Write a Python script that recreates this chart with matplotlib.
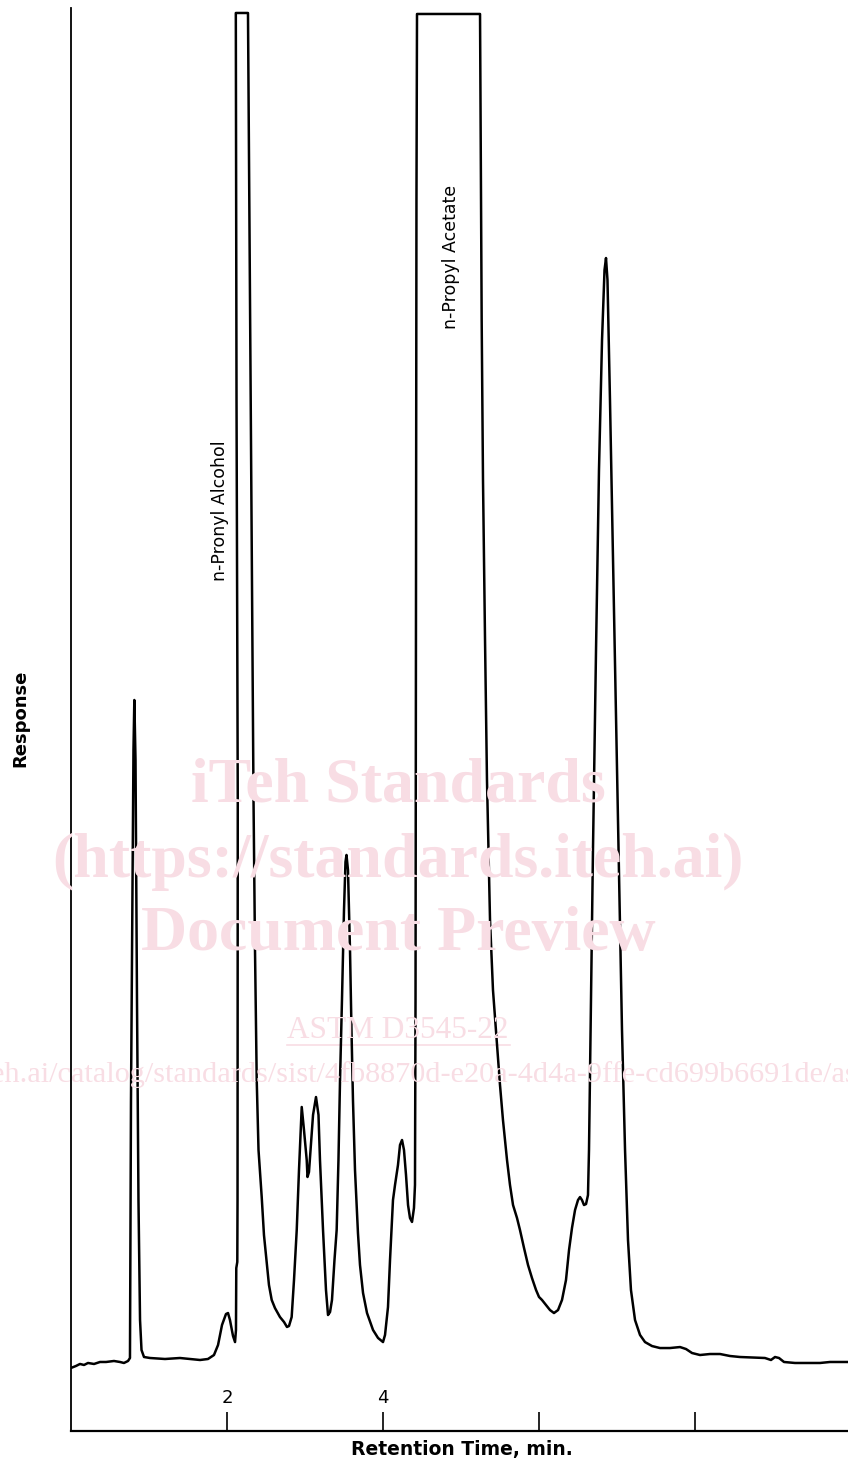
import matplotlib
matplotlib.use("Agg")
import matplotlib.pyplot as plt
from matplotlib.lines import Line2D

# Chromatogram trace: retention time (min) and detector response (arbitrary units, 0-100 full scale)
time_min = [
    0.000, 0.064, 0.115, 0.167, 0.218, 0.295, 0.372, 0.449, 0.551, 0.628, 0.679, 0.731, 0.756,
    0.769, 0.788, 0.801, 0.812, 0.827, 0.846, 0.865, 0.885, 0.904, 0.936, 1.013, 1.205, 1.397,
    1.526, 1.654, 1.756, 1.833, 1.885, 1.936, 1.987, 2.013, 2.038, 2.077, 2.103, 2.115, 2.119,
    2.132, 2.135, 2.138, 2.122, 2.113, 2.269, 2.295, 2.321, 2.340, 2.359, 2.381, 2.404, 2.445,
    2.474, 2.509, 2.538, 2.573, 2.615, 2.679, 2.731, 2.769, 2.795, 2.829, 2.859, 2.894, 2.923,
    2.958, 2.987, 3.022, 3.032, 3.051, 3.071, 3.103, 3.141, 3.173, 3.192, 3.231, 3.269, 3.295,
    3.321, 3.346, 3.378, 3.406, 3.429, 3.449, 3.474, 3.500, 3.519, 3.532, 3.551, 3.577, 3.596,
    3.615, 3.641, 3.679, 3.705, 3.744, 3.795, 3.872, 3.936, 4.000, 4.026, 4.064, 4.090, 4.128,
    4.154, 4.192, 4.218, 4.244, 4.269, 4.295, 4.321, 4.346, 4.372, 4.397, 4.404, 4.410, 4.417,
    4.423, 4.429, 4.436, 5.244, 5.265, 5.282, 5.308, 5.333, 5.372, 5.410, 5.458, 5.500, 5.538,
    5.590, 5.628, 5.667, 5.718, 5.756, 5.808, 5.859, 5.910, 5.962, 6.000, 6.038, 6.090, 6.141,
    6.192, 6.244, 6.295, 6.346, 6.385, 6.423, 6.462, 6.500, 6.526, 6.551, 6.577, 6.603, 6.628,
    6.641, 6.667, 6.692, 6.731, 6.769, 6.808, 6.840, 6.859, 6.878, 6.910, 6.949, 6.987, 7.026,
    7.064, 7.103, 7.141, 7.179, 7.231, 7.295, 7.359, 7.449, 7.551, 7.679, 7.808, 7.885, 7.962,
    8.064, 8.192, 8.321, 8.449, 8.577, 8.897, 8.974, 9.026, 9.077, 9.141, 9.282, 9.474, 9.603,
    9.731, 9.962,
]
response = [
    4.43, 4.57, 4.71, 4.64, 4.78, 4.71, 4.85, 4.85, 4.92, 4.85, 4.78, 4.92, 5.13,
    23.26, 37.32, 47.86, 51.37, 47.15, 30.29, 16.23, 7.80, 5.69, 5.20, 5.13, 5.06, 5.13,
    5.06, 4.99, 5.06, 5.34, 6.04, 7.45, 8.22, 8.29, 7.80, 6.68, 6.25, 7.10, 11.45,
    11.88, 16.23, 44.34, 72.45, 99.65, 99.65, 79.48, 58.40, 44.34, 33.80, 24.67, 19.75, 16.44,
    13.77, 11.81, 10.26, 9.21, 8.64, 8.01, 7.66, 7.31, 7.38, 8.01, 10.61, 14.13, 18.34,
    22.77, 21.15, 19.04, 17.85, 18.20, 19.75, 22.21, 23.47, 22.21, 19.04, 14.13, 9.91, 8.15,
    8.36, 9.21, 12.02, 14.13, 19.04, 24.67, 30.29, 36.61, 39.99, 40.48, 39.42, 33.80, 28.18,
    23.26, 18.34, 13.91, 11.67, 9.70, 8.29, 7.10, 6.54, 6.25, 6.75, 8.71, 12.02, 16.23,
    17.29, 18.69, 20.10, 20.45, 19.75, 17.99, 15.88, 14.97, 14.69, 15.67, 16.58, 17.29, 30.29,
    58.40, 86.51, 99.58, 99.58, 78.07, 66.83, 55.59, 45.75, 35.91, 30.99, 27.48, 24.31, 21.86,
    19.04, 17.29, 15.88, 14.97, 14.13, 12.86, 11.67, 10.75, 9.91, 9.42, 9.21, 8.85, 8.50,
    8.29, 8.50, 9.21, 10.61, 12.72, 14.27, 15.53, 16.23, 16.44, 16.23, 15.88, 15.95, 16.58,
    19.75, 30.29, 40.83, 54.88, 67.53, 76.67, 81.59, 82.43, 80.88, 72.45, 61.21, 49.96, 38.72,
    28.18, 19.75, 13.42, 9.91, 7.80, 6.75, 6.25, 5.97, 5.83, 5.83, 5.90, 5.76, 5.48,
    5.34, 5.41, 5.41, 5.27, 5.20, 5.13, 4.99, 5.20, 5.13, 4.85, 4.78, 4.78, 4.78,
    4.85, 4.85,
]

tick_positions = [2, 4, 6, 8]
tick_labels = ["2", "4", "", ""]

peak_names = ["n-Pronyl Alcohol", "n-Propyl Acetate"]
peak_label_time = [1.91, 4.87]
peak_label_resp = [64.7, 82.5]

watermark_lines = ["iTeh Standards", "(https://standards.iteh.ai)", "Document Preview"]
watermark_ref = "ASTM D3545-22"
watermark_url = "https://standards.iteh.ai/catalog/standards/sist/4fb8870d-e20a-4d4a-9ffe-cd699b6691de/astm-d3545-22"

W, H = 848, 1464
fig = plt.figure(figsize=(W / 100, H / 100), dpi=100)
fig.patch.set_facecolor("white")

narrow = ["Liberation Sans Narrow", "DejaVu Sans Condensed", "DejaVu Sans"]
serif = ["Liberation Serif", "DejaVu Serif"]
pink = "#f8dde4"

# Watermark (behind everything)
wm_y = [787, 862, 935]
for txt, yp in zip(watermark_lines, wm_y):
    fig.text(398 / W, 1 - yp / H, txt, ha="center", va="center", fontsize=46,
             family=serif, weight="bold", color=pink, zorder=0)
fig.text(398 / W, 1 - 1030 / H, watermark_ref, ha="center", va="center", fontsize=22.5,
         family=serif, color=pink, zorder=0)
fig.add_artist(Line2D([287 / W, 510 / W], [1 - 1045 / H, 1 - 1045 / H], color=pink, lw=1.2, zorder=0))
fig.text(392 / W, 1 - 1075 / H, watermark_url, ha="center", va="center", fontsize=21.8,
         family=serif, color=pink, zorder=0)

ax = fig.add_axes([71 / W, 33 / H, (W - 71) / W, (1431 - 8) / H])
ax.patch.set_alpha(0)
ax.plot(time_min, response, color="black", lw=1.8, solid_joinstyle="round")
ax.set_xlim(0, 777 / 78)
ax.set_ylim(0, 100)

for s in ["top", "right"]:
    ax.spines[s].set_visible(False)
ax.spines["left"].set_linewidth(1.3)
ax.spines["bottom"].set_linewidth(1.6)
ax.set_yticks([])
ax.set_xticks(tick_positions)
ax.tick_params(axis="x", direction="in", length=13.5, width=1.2, labelbottom=False)
for xp, lab in zip(tick_positions, tick_labels):
    if lab:
        ax.text(xp, 2.3, lab, ha="center", va="center", fontsize=13, family=narrow)

for name, xt, yr in zip(peak_names, peak_label_time, peak_label_resp):
    ax.text(xt, yr, name, rotation=90, ha="center", va="center", fontsize=12.5, family=narrow)

fig.text(20 / W, 1 - 718 / H, "Response", rotation=90, ha="center", va="center",
         fontsize=13, weight="bold", family=["DejaVu Sans"])
fig.text(462 / W, 1 - 1450 / H, "Retention Time, min.", ha="center", va="center",
         fontsize=13.5, weight="bold", family=["DejaVu Sans"])

fig.savefig("out.png", dpi=100)
